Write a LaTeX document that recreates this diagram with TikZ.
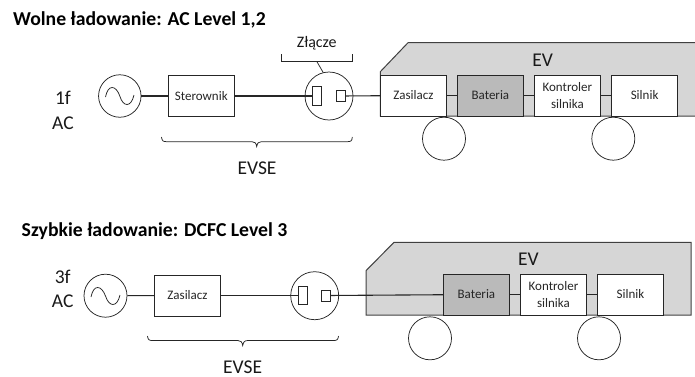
\documentclass[tikz,border=0pt]{standalone}
\usepackage{fontspec}
\setmainfont{Carlito}
\begin{document}
\begin{tikzpicture}[x=1pt,y=-1pt,
  line/.style={draw=black!85,line width=1.1pt},
  boxw/.style={draw=black!85,line width=1pt,fill=white},
  boxb/.style={draw=black!85,line width=1pt,fill=black!27},
  body/.style={draw=black!75,line width=1pt,fill=black!16},
  lab/.style={font=\fontsize{13}{17}\selectfont,align=center,text=black!85},
  big/.style={font=\fontsize{19.5}{22}\selectfont,text=black!90,inner sep=0pt},
  head/.style={font=\fontsize{19.7}{22}\selectfont\bfseries,anchor=west,text=black},
  ring/.style={circle,draw=black!85,line width=0.75pt,inner sep=0pt}]
\useasboundingbox (0,0) rectangle (695,376);
\clip (0,0) rectangle (695,376);
% titles
\node[head,inner sep=0pt] (t1) at (13,20) {Wolne ładowanie: AC Level 1,2};
\node[head,inner sep=0pt] (t2) at (21.5,230.7) {Szybkie ładowanie: DCFC Level 3};
% --- upper
\node[big] (l1) at (63,98) {1f};
\node[big] (l2) at (63,123.5) {AC};
\node[font=\fontsize{16}{18}\selectfont,text=black!90] (zl) at (316.7,43) {Złącze};
\draw[body] (380.3,116) -- (380.3,71.7) -- (408,42.7) -- (700,42.7) -- (700,116) -- cycle;
\node[big] (ev1) at (542.7,60) {EV};
\node[big] (es1) at (257,168.3) {EVSE};
\node[boxw,minimum width=66pt,minimum height=41pt,inner sep=0pt,lab] (ze) at (413.4,95.5) {Zasilacz};
\node[boxb,minimum width=66pt,minimum height=41pt,inner sep=0pt,lab] (ba) at (490.4,95.5) {Bateria};
\node[boxw,minimum width=66pt,minimum height=41pt,inner sep=0pt,lab] (ko) at (567.4,95.5) {Kontroler\\silnika};
\node[boxw,minimum width=66pt,minimum height=41pt,inner sep=0pt,lab] (si) at (644.6,95.5) {Silnik};
\node[boxw,minimum width=66pt,minimum height=41pt,inner sep=0pt,lab] (st) at (201.3,96) {Sterownik};
\node[ring,minimum size=42.5pt] (s1) at (119.8,96) {};
\node[ring,minimum size=48pt] (c1) at (329,96) {};
\node[ring,minimum size=43pt] (w1) at (444,138.7) {};
\node[ring,minimum size=43pt] (w2) at (613.3,138.7) {};
\node[boxw,line width=0.7pt,minimum width=8.3pt,minimum height=18.6pt,inner sep=0pt] (p1) at (316.9,96) {};
\node[boxw,line width=0.7pt,minimum width=9pt,minimum height=11pt,inner sep=0pt] (p2) at (340.5,96) {};
\draw[line] (s1) -- (st);
\draw[line] (st) -- (p1);
\draw[line] (p2) -- (ze);
\draw[line] (ze) -- (ba);
\draw[line] (ba) -- (ko);
\draw[line] (ko) -- (si);
\draw[line width=0.75pt,black!85] (105.5,97) .. controls (108,84) and (116,85) .. (119.8,96) .. controls (123,107) and (131,108) .. (134,95);
% connector bracket
\coordinate (bl) at (281.3,54);
\coordinate (br) at (352.3,54);
\draw[line width=0.75pt,black!85] (bl) -- (281.3,61.3) -- (352.3,61.3) -- (br);
\coordinate (bm) at (316.7,61.3);
\draw[line width=0.75pt,black!85] (bm) -- (c1.104);
% EVSE brace
\draw[line width=0.75pt,black!85] (161.5,137) .. controls (162,141) and (163,141.7) .. (167,141.7) -- (252,141.7) .. controls (255,141.7) and (256,143) .. (256.7,146.5) .. controls (257.4,143) and (258.4,141.7) .. (261.4,141.7) -- (347,141.7) .. controls (351,141.7) and (352,141) .. (352.3,137);
% --- lower
\node[big] (l3) at (62.7,276.7) {3f};
\node[big] (l4) at (62.7,301.7) {AC};
\draw[body] (366,315) -- (366,270.7) -- (394,242.3) -- (691,242.3) -- (691,315) -- cycle;
\node[big] (ev2) at (528.3,259) {EV};
\node[big] (es2) at (242.7,367) {EVSE};
\node[boxb,minimum width=66pt,minimum height=41pt,inner sep=0pt,lab] (bb) at (476.4,294.5) {Bateria};
\node[boxw,minimum width=66pt,minimum height=41pt,inner sep=0pt,lab] (kk) at (553.5,294.5) {Kontroler\\silnika};
\node[boxw,minimum width=66pt,minimum height=41pt,inner sep=0pt,lab] (ss) at (630.5,294.5) {Silnik};
\node[boxw,minimum width=66pt,minimum height=41pt,inner sep=0pt,lab] (zz) at (187.5,295.5) {Zasilacz};
\node[ring,minimum size=43pt] (s2) at (105.5,295.7) {};
\node[ring,minimum size=48pt] (c2) at (314.7,295.7) {};
\node[ring,minimum size=43pt] (w3) at (430,338.3) {};
\node[ring,minimum size=43pt] (w4) at (599,338.3) {};
\node[boxw,line width=0.7pt,minimum width=8.3pt,minimum height=18.6pt,inner sep=0pt] (p3) at (302.9,295.5) {};
\node[boxw,line width=0.7pt,minimum width=9pt,minimum height=11pt,inner sep=0pt] (p4) at (326.2,295.5) {};
\draw[line] (s2) -- (zz);
\draw[line] (zz) -- (p3);
\draw[line] (p4) -- (bb);
\draw[line] (bb) -- (kk);
\draw[line] (kk) -- (ss);
\draw[line width=0.75pt,black!85] (91,297) .. controls (93.5,284) and (101.5,285) .. (105.5,296) .. controls (109,307) and (117,308) .. (120,295);
\draw[line width=0.75pt,black!85] (147.5,336) .. controls (148,340) and (149,340.5) .. (153,340.5) -- (238,340.5) .. controls (241,340.5) and (242,342) .. (242.7,345.5) .. controls (243.4,342) and (244.4,340.5) .. (248,340.5) -- (333,340.5) .. controls (337,340.5) and (338,340) .. (338.5,336);
\end{tikzpicture}
\end{document}
